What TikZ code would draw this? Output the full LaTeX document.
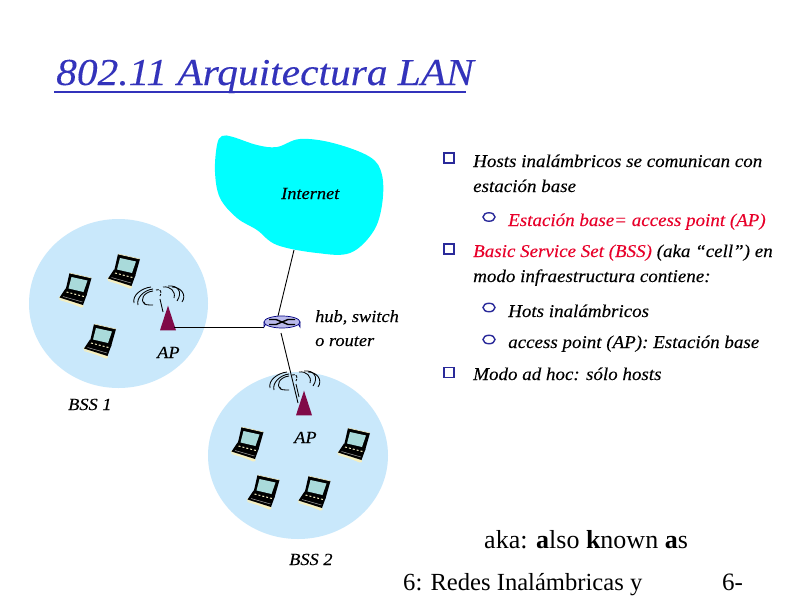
\documentclass[tikz,border=0pt]{standalone}
\usepackage{fontspec}
\setmainfont{Liberation Serif}
\usetikzlibrary{shapes.geometric}
\definecolor{titleblue}{HTML}{3333BB}
\definecolor{bulletblue}{HTML}{2A2A9A}
\definecolor{bsscol}{HTML}{C9E8FB}
\definecolor{cloudcol}{HTML}{00FFFF}
\definecolor{apcol}{HTML}{800A48}
\definecolor{redtxt}{HTML}{E8002A}
\definecolor{screencol}{HTML}{A9DADA}
\definecolor{creamcol}{HTML}{F5EFC0}
\definecolor{routercol}{HTML}{BABAEC}
\tikzset{
  x=1pt,y=-1pt,
  txt/.style={inner sep=0pt,anchor=base west,font=\fontsize{#1}{#1}\selectfont\itshape\addfontfeatures{FakeStretch=1.055,FakeBold=0.15}},
  txt/.default=18,
  foot/.style={inner sep=0pt,anchor=base west,font=\fontsize{#1}{#1}\selectfont},
  lbl/.style={inner sep=0pt,anchor=base west,font=\fontsize{17}{17}\selectfont\itshape\addfontfeatures{FakeStretch=1.08,FakeBold=0.15}},
  link/.style={draw=black,line width=0.9pt},
  bss/.style={ellipse,fill=bsscol,inner sep=0pt},
  apmark/.style={isosceles triangle,isosceles triangle apex angle=36,shape border rotate=90,fill=apcol,inner sep=0pt,minimum height=24,minimum width=16},
  sqbullet/.style={draw=bulletblue,line width=1.5pt,fill=white,minimum width=10,minimum height=10,inner sep=0pt},
  cbullet/.style={draw=bulletblue,line width=1.4pt,fill=white,ellipse,minimum width=12,minimum height=8.5,inner sep=0pt},
  wave/.style={draw=black,line width=0.85pt},
  laptop/.pic={
    \fill[creamcol] (-16.5,8) -- (-15,6) -- (8,14) -- (8.5,17) -- (6,17.5) -- cycle;
    \fill[black] (-15.5,7.5) -- (-9.5,-1.5) -- (12,4) -- (8,15) -- cycle;
    \draw[creamcol,line width=0.9pt] (-15.5,9.5) -- (7.5,16.5);
    \draw[creamcol,line width=1pt,dash pattern=on 2pt off 2pt] (-8.5,2) -- (9,6.5);
    \draw[gray!70,line width=0.5pt] (-12,6.5) -- (7.5,12);
    \fill[black] (-5.5,-17) -- (16.5,-12) -- (11.5,5.5) -- (-9.5,0.5) -- cycle;
    \draw[creamcol,line width=0.6pt] (-5.5,-17) -- (16.5,-12);
    \fill[screencol] (-3.5,-13) -- (12.5,-9.5) -- (8.5,2) -- (-6.5,-1.5) -- cycle;
  },
  antenna/.pic={
    \draw[wave] (-5,0) -- (-8,-13);
    \draw[wave] (-34,-9) .. controls (-36,-17) and (-26,-24) .. (-17,-25);
    \draw[wave] (-30,-7) .. controls (-32,-14) and (-24,-22) .. (-15,-23);
    \draw[wave] (-23,-8) .. controls (-29,-12) and (-24,-20) .. (-15,-21);
    \draw[wave] (-15,-7) .. controls (-20,-7) and (-25,-7) .. (-24,-10);
    \draw[wave,dash pattern=on 3pt off 1pt] (-12,-22) .. controls (-7,-24) and (-6,-19) .. (-8,-16);
    \draw[wave] (-5,-25) .. controls (2,-26) and (8,-21) .. (6,-14);
    \draw[wave] (0,-26) .. controls (10,-27) and (15,-20) .. (9,-11);
    \draw[wave] (4,-25) .. controls (13,-25) and (19,-17) .. (14,-10);
  },
}
\begin{document}
\begin{tikzpicture}
\useasboundingbox (0,0) rectangle (800,600);
\fill[white] (0,0) rectangle (800,600);

% title
\node[inner sep=0pt,anchor=base west,font=\fontsize{38}{38}\selectfont\itshape,text=titleblue] (title) at (56,85) {\addfontfeatures{FakeStretch=1.09,FakeBold=0.2}802.11 Arquitectura LAN};
\draw[titleblue,line width=2.4pt] (54,92) -- (466,92);

% coverage areas and cloud
\node[bss,minimum width=179,minimum height=169] (bssA) at (118.5,303.5) {};
\node[bss,minimum width=180,minimum height=167] (bssB) at (298,455.5) {};
\fill[cloudcol] plot[smooth cycle,tension=0.6] coordinates {
 (222,136) (233,137) (257,145) (277,147) (300,139) (333,143) (370,157) (382,175)
 (382,205) (373,232) (350,253) (317,253) (277,245) (257,230) (237,218) (220,198) (215,172) (217,145)};

% connection points
\coordinate (cloudport) at (294,250);
\coordinate (routertop) at (278,316);
\coordinate (routerleft) at (264,327);
\coordinate (routerbottom) at (281,333);
\coordinate (apAport) at (174,327);
\coordinate (apBport) at (298,403);

% access points
\node[apmark] (apA) at (168,324.5) {};
\node[apmark] (apB) at (304,409.5) {};
\pic at (168,312) {antenna};
\pic at (304,397) {antenna};

% connectors
\draw[link] (cloudport) -- (routertop);
\draw[link] (apAport) -- (routerleft);
\draw[link] (routerbottom) -- (apBport);

% router
\path[fill=routercol,draw=black!50!blue,line width=0.7pt] (264,322) -- (264,327) arc[start angle=180,end angle=360,x radius=18,y radius=6] -- (300,322) -- cycle;
\node[ellipse,fill=routercol,draw=black!50!blue,line width=0.7pt,minimum width=36,minimum height=12,inner sep=0pt] (router) at (282,322) {};
\draw[black,line width=1.4pt] (269,319.5) -- (276,319.5) -- (288,324.5) -- (295,324.5);
\draw[black,line width=1.4pt] (269,324.5) -- (276,324.5) -- (288,319.5) -- (295,319.5);

% laptops
\foreach \p in {(75,290),(123.5,271),(99.5,341),(247,444),(353.5,445),(263,492),(314,493)}
  \pic at \p {laptop};

% diagram labels
\node[lbl] (inet) at (281,199) {Internet};
\node[lbl] (hub) at (315,322) {hub, switch};
\node[lbl] (rout) at (315,346) {o router};
\node[lbl] (apAl) at (157,358) {AP};
\node[lbl] (apBl) at (294,443) {AP};
\node[lbl] (bssAl) at (68,410) {BSS 1};
\node[lbl] (bssBl) at (289,565) {BSS 2};

% bullets
\node[sqbullet] (s1) at (449,158) {};
\node[sqbullet] (s2) at (449,249) {};
\node[sqbullet] (s3) at (449,372.5) {};
\node[cbullet] (c1) at (489,217) {};
\node[cbullet] (c2) at (489,307.5) {};
\node[cbullet] (c3) at (489,339.5) {};

\node[txt] (t1) at (473,167) {Hosts inalámbricos se comunican con};
\node[txt] (t2) at (473,192) {estación base};
\node[txt,text=redtxt] (t3) at (508,226) {Estación base= access point (AP)};
\node[txt] (t4) at (473,257) {\textcolor{redtxt}{Basic Service Set (BSS)} (aka “cell”) en};
\node[txt] (t5) at (473,282) {modo infraestructura contiene:};
\node[txt] (t6) at (508,317) {Hots inalámbricos};
\node[txt] (t7) at (508,348) {access point (AP): Estación base};
\node[txt] (t8) at (473,380) {Modo ad hoc: sólo hosts};

% footer
\node[foot=26] (aka) at (484,548) {aka: \textbf{a}lso \textbf{k}nown \textbf{a}s};
\node[foot=24.6] (f1) at (403,590) {6: Redes Inalámbricas y};
\node[foot=25] (f2) at (722,590) {6-};
\end{tikzpicture}
\end{document}
